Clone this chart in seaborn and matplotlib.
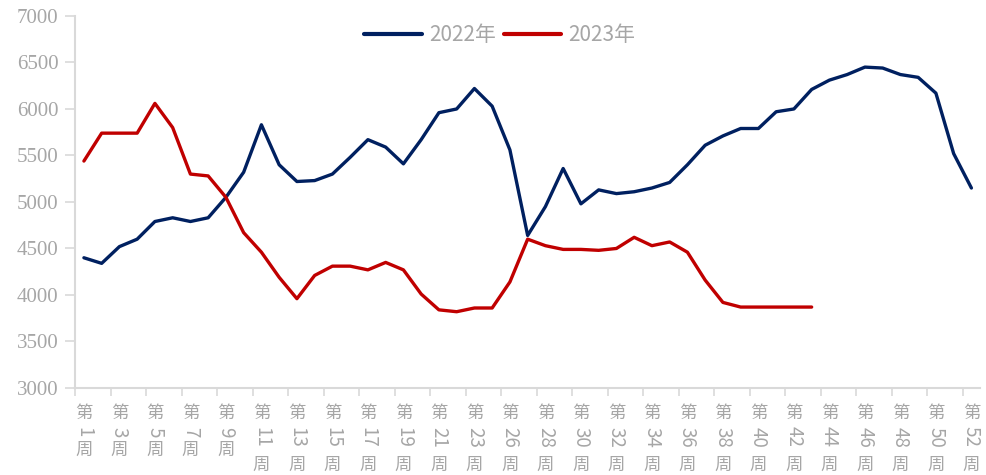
import numpy as np
import pandas as pd
import seaborn as sns
import matplotlib.pyplot as plt

# 周次（缺第25周）
weeks = list(range(1, 25)) + list(range(26, 53))

price_2022 = [4400, 4340, 4520, 4600, 4790, 4830, 4790, 4830, 5050, 5320,
              5830, 5400, 5220, 5230, 5300, 5480, 5670, 5590, 5410, 5670,
              5960, 6000, 6220, 6030, 5560, 4640, 4950, 5360, 4980, 5130,
              5090, 5110, 5150, 5210, 5400, 5610, 5710, 5790, 5790, 5970,
              6000, 6210, 6310, 6370, 6450, 6440, 6370, 6340, 6170, 5520,
              5150]
price_2023 = [5440, 5740, 5740, 5740, 6060, 5800, 5300, 5280, 5050, 4670,
              4460, 4190, 3960, 4210, 4310, 4310, 4270, 4350, 4270, 4010,
              3840, 3820, 3860, 3860, 4140, 4600, 4530, 4490, 4490, 4480,
              4500, 4620, 4530, 4570, 4460, 4160, 3920, 3870, 3870, 3870,
              3870, 3870]

series_names = ["2022年", "2023年"]
y_ticks = [3000, 3500, 4000, 4500, 5000, 5500, 6000, 6500, 7000]

n = len(weeks)
pos = np.arange(n)
p23 = price_2023 + [np.nan] * (n - len(price_2023))

df = pd.concat([
    pd.DataFrame({"pos": pos, "value": price_2022, "year": series_names[0]}),
    pd.DataFrame({"pos": pos, "value": p23, "year": series_names[1]}),
]).dropna()

sns.set_theme(style="white")
cjk = ["Noto Sans CJK SC", "DejaVu Sans"]
plt.rcParams["font.family"] = cjk
grey = "#A6A6A6"
axis_grey = "#D9D9D9"

fig = plt.figure(figsize=(9.86, 4.75), dpi=100)
ax = fig.add_axes([0.0761, 0.1832, 0.9181, 0.7832])

sns.lineplot(
    data=df, x="pos", y="value", hue="year",
    palette={"2022年": "#002060", "2023年": "#C00000"},
    linewidth=2.4, errorbar=None, ax=ax, legend=True
)

ax.set_xlim(-0.5, n - 0.5)
ax.set_ylim(3000, 7000)
ax.set_yticks(y_ticks)
ax.set_yticklabels([str(v) for v in y_ticks], family="Liberation Serif",
                   fontsize=15, color=grey)
ax.set_xticks(np.arange(-0.5, n - 1, 2))
ax.set_xticklabels([])
ax.tick_params(axis="y", left=True, length=7, color=axis_grey, width=1.2, pad=5)
ax.tick_params(axis="x", bottom=True, length=6, color=axis_grey, width=1.2)
ax.set_xlabel("")
ax.set_ylabel("")
for s in ["top", "right"]:
    ax.spines[s].set_visible(False)
for s in ["left", "bottom"]:
    ax.spines[s].set_color(axis_grey)
    ax.spines[s].set_linewidth(1.5)

# 竖排的周次标签
px = 72 / 100
for i in range(0, n, 2):
    w = weeks[i]
    two = w >= 10
    ax.annotate("第", xy=(i, 0), xycoords=("data", "axes fraction"),
                xytext=(0, -25.5 * px), textcoords="offset points",
                ha="center", va="center", fontsize=12.5, color=grey,
                family=cjk, fontweight="light")
    ax.annotate(str(w), xy=(i, 0), xycoords=("data", "axes fraction"),
                xytext=(0, -(49 if two else 44) * px), textcoords="offset points",
                ha="center", va="center", fontsize=13.5, color=grey,
                rotation=-90, family=cjk, fontweight="light")
    ax.annotate("周", xy=(i, 0), xycoords=("data", "axes fraction"),
                xytext=(0, -(77 if two else 62) * px), textcoords="offset points",
                ha="center", va="center", fontsize=12.5, color=grey,
                family=cjk, fontweight="light")

handles, labels = ax.get_legend_handles_labels()
ax.legend(handles, labels, loc="center", bbox_to_anchor=(0.507, 0.926),
          bbox_transform=fig.transFigure, ncol=2, frameon=False,
          labelcolor=grey, handlelength=2.75, handletextpad=0.35,
          columnspacing=0.4, prop={"family": cjk, "size": 15, "weight": "light"})
for line in ax.get_legend().get_lines():
    line.set_linewidth(3)

fig.savefig("out.png", dpi=100)
